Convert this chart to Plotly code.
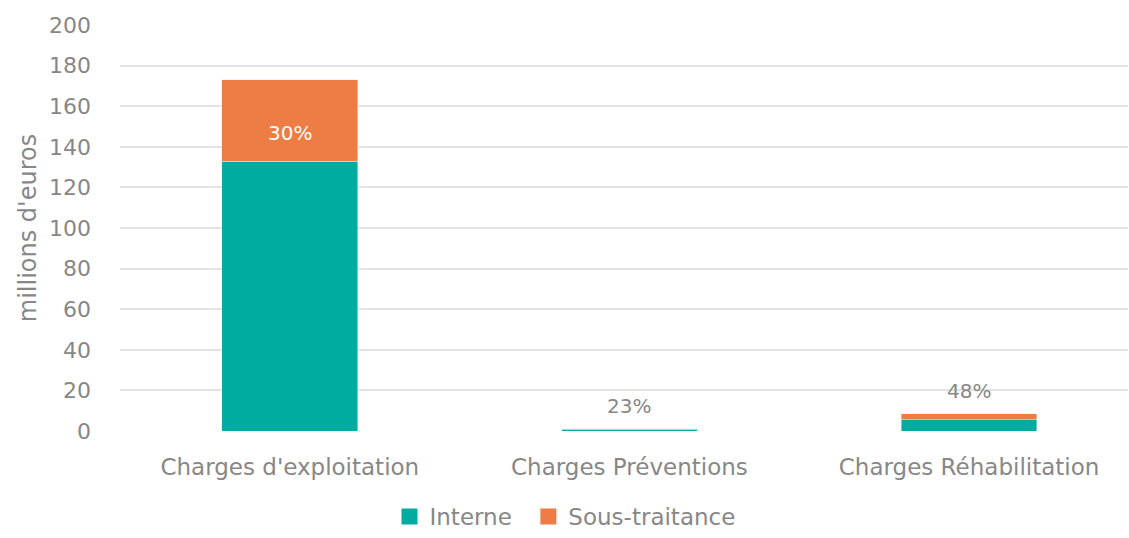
import plotly.graph_objects as go

categories = ["Charges d'exploitation", "Charges Préventions", "Charges Réhabilitation"]
interne = [133, 0.8, 5.6]
sous_traitance = [40, 0.25, 2.8]
pct_labels = ["30%", "23%", "48%"]
y_ticks = list(range(0, 201, 20))

TEAL = "#00AC9F"
ORANGE = "#EE7D45"
GREY = "#878787"
FONT = "DejaVu Sans"

fig = go.Figure()
fig.add_trace(go.Bar(x=categories, y=interne, name="Interne", marker_color=TEAL,
                     showlegend=False))
fig.add_trace(go.Bar(x=categories, y=sous_traitance, name="Sous-traitance",
                     marker_color=ORANGE, showlegend=False))

# legend entries with larger square keys, one legend box per entry
for name, col, leg in (("Interne", TEAL, "legend"), ("Sous-traitance", ORANGE, "legend2")):
    fig.add_trace(go.Scatter(x=[None], y=[None], mode="markers", name=name, legend=leg,
                             marker=dict(symbol="square", size=18, color=col)))

# share labels: just above the orange base for the tall bar, above the bar otherwise
for cat, a, b, lab in zip(categories, interne, sous_traitance, pct_labels):
    if b > 20:
        fig.add_annotation(x=cat, y=a, text=lab, showarrow=False, yanchor="bottom",
                           yshift=14, font=dict(color="white", size=20, family=FONT))
    else:
        fig.add_annotation(x=cat, y=a + b, text=lab, showarrow=False, yanchor="bottom",
                           yshift=9, font=dict(color=GREY, size=20, family=FONT))

legend_style = dict(orientation="h", xref="container", xanchor="left",
                    yref="container", yanchor="bottom", y=0.0,
                    font=dict(size=23, color=GREY), itemwidth=30,
                    bgcolor="rgba(0,0,0,0)")

fig.update_layout(
    barmode="stack",
    bargap=0.6,
    width=1129, height=538,
    margin=dict(l=120, r=1, t=25, b=107, autoexpand=False),
    paper_bgcolor="white", plot_bgcolor="white",
    font=dict(family=FONT, color=GREY, size=20),
    legend=dict(legend_style, x=0.345),
    legend2=dict(legend_style, x=0.468),
    xaxis=dict(range=[-0.5, 2.468], showgrid=False, showline=False, ticks="",
               tickangle=0, automargin=False,
               tickfont=dict(size=23), ticklabelstandoff=20),
    yaxis=dict(range=[0, 200], tickvals=y_ticks, showgrid=True, gridcolor="#E3E3E3",
               gridwidth=1.5, zeroline=False, showline=False, ticks="", automargin=False,
               tickfont=dict(size=22), ticklabelstandoff=28,
               title=dict(text="millions d'euros", font=dict(size=24), standoff=5)),
)

fig.write_html("out.html")
